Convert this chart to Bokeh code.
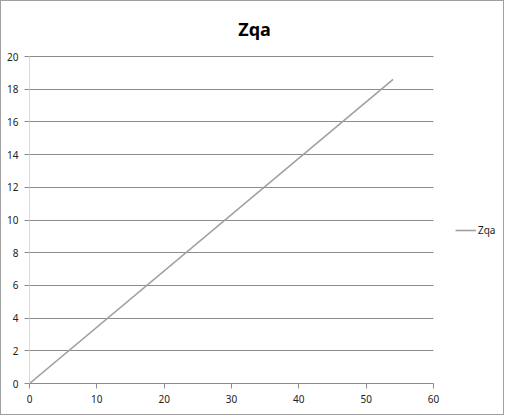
from bokeh.plotting import figure
from bokeh.models import Range1d, Legend, LegendItem, Label, FixedTicker, Grid
from bokeh.embed import file_html
from bokeh.resources import INLINE

title_text = "Zqa"
series_name = "Zqa"
x_vals = [0, 54]
y_vals = [0, 18.6]
x_ticks = [0, 10, 20, 30, 40, 50, 60]
y_ticks = [0, 2, 4, 6, 8, 10, 12, 14, 16, 18, 20]
x_min, x_max = 0, 60
y_min, y_max = 0, 20

FONT = "Noto Sans"

W, H = 504, 415
LEFT, BOTTOM, TOP, RIGHT = 28, 33, 2, 2
PLOT_W, PLOT_H = 404, 327          # size of the visible plot area
frame_w = W - LEFT - RIGHT
frame_h = H - TOP - BOTTOM
# extend the ranges so that the frame also holds the title and the legend
x_end = x_min + (x_max - x_min) * frame_w / PLOT_W
y_end = y_min + (y_max - y_min) * frame_h / PLOT_H

p = figure(width=W, height=H, output_backend="svg", toolbar_location=None,
           x_range=Range1d(x_min, x_end), y_range=Range1d(y_min, y_end),
           min_border_left=LEFT, min_border_right=RIGHT,
           min_border_top=TOP, min_border_bottom=BOTTOM)

p.styles = {"border": "1px solid #a0a0a0", "box-sizing": "border-box"}
p.outline_line_color = None
p.background_fill_color = "white"
p.border_fill_color = "white"

# grid
p.xgrid.grid_line_color = None
p.ygrid.grid_line_color = None
if "cross_bounds" in Grid.properties():
    g = Grid(dimension=1, ticker=FixedTicker(ticks=y_ticks), bounds=(y_min, y_max),
             cross_bounds=(x_min, x_max), grid_line_color="#8c8c8c", grid_line_width=1)
    p.add_layout(g)
else:
    p.segment(x0=[x_min] * len(y_ticks), x1=[x_max] * len(y_ticks), y0=y_ticks, y1=y_ticks,
              line_color="#8c8c8c", line_width=1)

# axes
for ax in (p.xaxis[0], p.yaxis[0]):
    ax.major_tick_in = 0
    ax.major_tick_out = 5
    ax.minor_tick_line_color = None
    ax.major_label_text_font = FONT
    ax.major_label_text_font_size = "10px"
    ax.major_label_text_color = "#222222"
    ax.major_tick_line_color = "#8c8c8c"

p.xaxis[0].ticker = FixedTicker(ticks=x_ticks)
p.yaxis[0].ticker = FixedTicker(ticks=y_ticks)
p.xaxis[0].bounds = (x_min, x_max)
p.yaxis[0].bounds = (y_min, y_max)
p.xaxis[0].axis_line_color = "#8c8c8c"
p.yaxis[0].axis_line_color = "#d9d9d9"
p.xaxis[0].major_label_standoff = 6
p.yaxis[0].major_label_standoff = 6

r = p.line(x_vals, y_vals, line_color="#a0a0a0", line_width=1.6)

legend = Legend(items=[LegendItem(label=series_name, renderers=[r])],
                location=(426, 146), border_line_color=None,
                background_fill_alpha=0, padding=0, margin=0,
                glyph_width=21, glyph_height=12, label_standoff=2,
                label_text_font=FONT, label_text_font_size="10px",
                label_text_color="#222222")
p.add_layout(legend, "center")

title = Label(x=252, y=26, x_units="canvas", y_units="canvas", text=title_text,
              text_font=FONT, text_font_size="18px", text_font_style="bold",
              text_align="center", text_baseline="middle", text_color="#000000")
p.add_layout(title)

open("out.html", "w").write(file_html(p, INLINE))
